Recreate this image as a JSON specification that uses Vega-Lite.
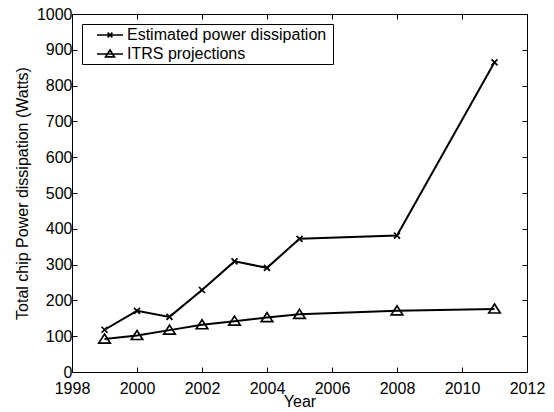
{
  "$schema": "https://vega.github.io/schema/vega-lite/v6.json",
  "width": 455,
  "height": 358,
  "autosize": {"type": "none"},
  "padding": {"left": 72, "top": 14, "right": 27, "bottom": 40},
  "background": "white",
  "data": {
    "values": [
      {"year": 1999, "value": 118, "series": "Estimated power dissipation"},
      {"year": 2000, "value": 171, "series": "Estimated power dissipation"},
      {"year": 2001, "value": 154, "series": "Estimated power dissipation"},
      {"year": 2002, "value": 229, "series": "Estimated power dissipation"},
      {"year": 2003, "value": 309, "series": "Estimated power dissipation"},
      {"year": 2004, "value": 291, "series": "Estimated power dissipation"},
      {"year": 2005, "value": 372, "series": "Estimated power dissipation"},
      {"year": 2008, "value": 381, "series": "Estimated power dissipation"},
      {"year": 2011, "value": 865, "series": "Estimated power dissipation"},
      {"year": 1999, "value": 92, "series": "ITRS projections"},
      {"year": 2000, "value": 102, "series": "ITRS projections"},
      {"year": 2001, "value": 117, "series": "ITRS projections"},
      {"year": 2002, "value": 132, "series": "ITRS projections"},
      {"year": 2003, "value": 142, "series": "ITRS projections"},
      {"year": 2004, "value": 152, "series": "ITRS projections"},
      {"year": 2005, "value": 161, "series": "ITRS projections"},
      {"year": 2008, "value": 171, "series": "ITRS projections"},
      {"year": 2011, "value": 176, "series": "ITRS projections"}
    ]
  },
  "layer": [
    {
      "encoding": {
        "x": {"field": "year", "type": "quantitative", "scale": {"domain": [1998, 2012], "nice": false, "zero": false},
          "axis": {"orient": "bottom", "values": [1998, 2000, 2002, 2004, 2006, 2008, 2010, 2012], "format": "d", "labelOverlap": false, "labelFlush": false, "title": "Year", "labelPadding": 13, "titlePadding": -3}},
        "y": {"field": "value", "type": "quantitative", "scale": {"domain": [0, 1000], "nice": false},
          "axis": {"orient": "left", "values": [0, 100, 200, 300, 400, 500, 600, 700, 800, 900, 1000], "format": "d", "labelOverlap": false, "labelFlush": false, "title": "Total chip Power dissipation (Watts)", "labelPadding": 5, "titlePadding": 6,
            "encode": {"labels": {"update": {"dy": {"signal": "datum.value === 0 ? -3 : 0"}}}}}}
      },
      "layer": [
        {
          "mark": {"type": "line", "color": "black", "strokeWidth": 2},
          "encoding": {"detail": {"field": "series"}}
        },
        {
          "transform": [{"filter": "datum.series === 'Estimated power dissipation'"}],
          "mark": {"type": "point", "filled": false, "color": "black", "strokeWidth": 1.7, "size": 100, "opacity": 1, "shape": "M-0.6,-0.6L0.6,0.6M-0.6,0.6L0.6,-0.6"}
        },
        {
          "transform": [{"filter": "datum.series === 'ITRS projections'"}],
          "mark": {"type": "point", "filled": false, "color": "black", "strokeWidth": 1.7, "size": 100, "opacity": 1, "shape": "M0,-1L1.15,0.8L-1.15,0.8Z"}
        },
        {
          "mark": {"type": "point", "filled": false, "color": "black", "opacity": 0, "size": 256},
          "encoding": {
            "shape": {
              "field": "series", "type": "nominal",
              "scale": {"domain": ["Estimated power dissipation", "ITRS projections"],
                "range": ["M-1.625,0L1.625,0M-0.3,-0.3L0.3,0.3M-0.3,0.3L0.3,-0.3", "M-1.625,0L1.625,0M0,-0.5L0.55,0.35L-0.55,0.35Z"]},
              "legend": {
                "orient": "none", "legendX": 10, "legendY": 10, "title": "\u00a0", "titleOrient": "right", "titlePadding": 5, "titleFontSize": 16,
                "padding": 2, "strokeColor": "black", "fillColor": "white",
                "labelFontSize": 16, "labelFont": "Liberation Sans", "labelColor": "black", "labelLimit": 0,
                "labelOffset": 8, "symbolOffset": 17, "rowPadding": 2,
                "symbolSize": 256, "symbolOpacity": 1, "symbolStrokeColor": "black", "symbolStrokeWidth": 1.7, "symbolFillColor": "transparent"
              }
            }
          }
        }
      ]
    },
    {
      "mark": {"type": "point", "opacity": 0},
      "encoding": {
        "x": {"field": "year", "type": "quantitative", "scale": {"domain": [1998, 2012], "nice": false, "zero": false},
          "axis": {"orient": "top", "values": [1998, 2000, 2002, 2004, 2006, 2008, 2010, 2012], "labels": false, "title": null}},
        "y": {"field": "value", "type": "quantitative", "scale": {"domain": [0, 1000], "nice": false},
          "axis": {"orient": "right", "values": [0, 100, 200, 300, 400, 500, 600, 700, 800, 900, 1000], "labels": false, "title": null}}
      }
    }
  ],
  "resolve": {"scale": {"x": "independent", "y": "independent"}},
  "config": {
    "view": {"stroke": null},
    "axis": {
      "grid": false, "domainColor": "black", "domainWidth": 1, "tickColor": "black", "tickWidth": 1, "tickSize": -5,
      "labelColor": "black", "labelFont": "Liberation Sans", "labelFontSize": 16,
      "titleColor": "black", "titleFont": "Liberation Sans", "titleFontSize": 16, "titleFontWeight": "normal"
    }
  }
}
